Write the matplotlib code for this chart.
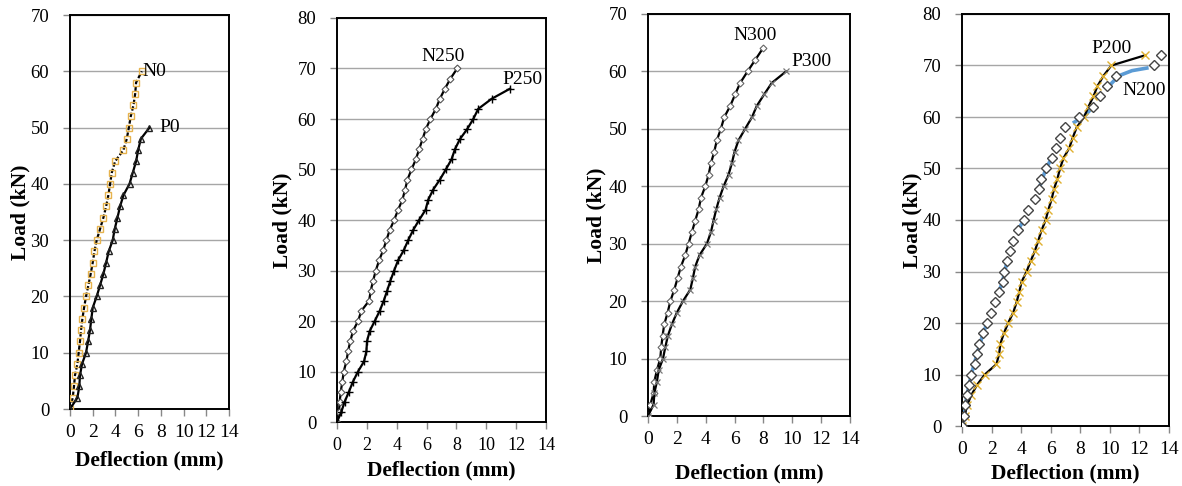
import matplotlib
matplotlib.use("Agg")
import matplotlib.pyplot as plt
import numpy as np

plt.rcParams.update({
    "font.family": ["Liberation Serif", "DejaVu Serif"],
    "font.size": 13,
})

# ---- data (load kN, deflection mm) ----
N0_load = [0, 2, 4, 6, 8, 10, 12, 14, 16, 18, 20, 22, 24, 26, 28, 30, 32, 34, 36, 38, 40, 42, 44, 46, 48, 50, 52, 54, 56, 58, 60]
N0_defl = [0, 0.24, 0.35, 0.44, 0.65, 0.76, 0.88, 0.97, 1.09, 1.24, 1.41, 1.62, 1.82, 2.0, 2.15, 2.35, 2.65, 2.94, 3.18, 3.38,
           3.53, 3.68, 3.97, 4.7, 5.0, 5.18, 5.35, 5.59, 5.74, 5.82, 6.32]
P0_load = [0, 2, 4, 6, 8, 10, 12, 14, 16, 18, 20, 22, 24, 26, 28, 30, 32, 34, 36, 38, 40, 42, 44, 46, 48, 50]
P0_defl = [0, 0.65, 0.82, 0.88, 1.06, 1.41, 1.59, 1.76, 1.88, 2.0, 2.35, 2.65, 2.94, 3.18, 3.41, 3.76, 3.94, 4.18, 4.41, 4.71,
           5.24, 5.53, 5.82, 6.0, 6.24, 7.0]

N250_load = list(range(0, 72, 2))
N250_defl = [0, 0.13, 0.18, 0.25, 0.36, 0.45, 0.63, 0.74, 0.89, 1.07, 1.41, 1.63, 2.15, 2.26, 2.42, 2.6, 2.82, 3.09, 3.31, 3.53,
             3.83, 4.09, 4.38, 4.56, 4.72, 4.99, 5.28, 5.5, 5.73, 5.95, 6.26, 6.62, 6.89, 7.23, 7.6, 8.05]
P250_load = list(range(0, 68, 2))
P250_defl = [0, 0.29, 0.51, 0.8, 1.07, 1.41, 1.81, 1.97, 2.01, 2.19, 2.53, 2.86, 3.13, 3.36, 3.58, 3.83, 4.09, 4.47, 4.77, 5.1,
             5.5, 5.93, 6.11, 6.44, 6.89, 7.29, 7.67, 7.9, 8.23, 8.72, 9.13, 9.46, 10.36, 11.59]

N300_load = list(range(0, 66, 2))
N300_defl = [0, 0.16, 0.39, 0.44, 0.62, 0.85, 0.92, 1.01, 1.13, 1.36, 1.55, 1.82, 2.05, 2.28, 2.58, 2.81, 3.04, 3.27, 3.51, 3.67,
             3.97, 4.2, 4.36, 4.59, 4.77, 5.05, 5.28, 5.7, 6.04, 6.39, 6.9, 7.43, 7.96]
P300_load = list(range(0, 62, 2))
P300_defl = [0, 0.39, 0.44, 0.62, 0.74, 1.04, 1.2, 1.38, 1.66, 2.0, 2.42, 2.93, 3.11, 3.27, 3.57, 4.08, 4.36, 4.54, 4.73, 4.96,
             5.24, 5.58, 5.81, 6.0, 6.27, 6.73, 7.2, 7.54, 8.05, 8.58, 9.57]

P200_load = list(range(0, 74, 2))
P200_defl = [0, 0.18, 0.34, 0.63, 1.02, 1.54, 2.33, 2.51, 2.6, 2.83, 3.12, 3.46, 3.69, 3.87, 4.03, 4.37, 4.64, 4.93, 5.16, 5.38,
             5.66, 5.84, 6.06, 6.22, 6.45, 6.63, 6.86, 7.26, 7.49, 7.76, 8.26, 8.55, 8.89, 9.16, 9.57, 10.1, 12.4]
N200_load = list(range(0, 74, 2))
N200_defl = [0, 0.14, 0.18, 0.34, 0.48, 0.63, 0.9, 1.02, 1.15, 1.43, 1.7, 1.95, 2.26, 2.49, 2.74, 2.83, 3.05, 3.24, 3.42, 3.76,
             4.19, 4.48, 4.93, 5.2, 5.34, 5.68, 6.06, 6.33, 6.63, 6.97, 7.94, 8.85, 9.3, 9.8, 10.43, 12.96, 13.48]
# blue trend line of N200 (drawn in pieces, NaN = gap)
N200_trend_defl = [0, 0.14, 0.34, 0.63, 1.02, 1.43, 1.7, np.nan, 2.49, 2.74, 3.05, np.nan, 3.76, 4.19, np.nan,
                   5.2, 5.68, 6.06, np.nan, 7.6, 8.3, 8.8, np.nan, 10.1, 10.6, 11.5, 12.5]
N200_trend_load = [0, 2, 6, 10, 14, 18, 20, np.nan, 26, 28, 32, np.nan, 38, 40, np.nan,
                   46, 50, 52, np.nan, 59, 60.2, 61.8, np.nan, 66.5, 68, 69, 69.5]

xticks = list(range(0, 16, 2))

# axes boxes in pixels: left, right, top, bottom
W, H = 1182, 486
boxes = [(70, 229, 15, 409), (337, 546, 18, 422), (648, 850, 14, 416), (962, 1169, 14, 426)]
ymaxes = [70, 80, 70, 80]
ylab_x = [20, 282, 596, 912]
xlab_y = [460, 470, 473, 473]
xtick_fs = [14, 13, 14, 14]

fig = plt.figure(figsize=(W / 100, H / 100), dpi=100)
axes = []
for (l, r, t, b), ymax, lx, ly, fs in zip(boxes, ymaxes, ylab_x, xlab_y, xtick_fs):
    ax = fig.add_axes([l / W, 1 - b / H, (r - l) / W, (b - t) / H])
    ax.set_xlim(0, 14)
    ax.set_ylim(0, ymax)
    ax.set_xticks(xticks)
    ax.set_yticks(range(0, ymax + 1, 10))
    ax.grid(axis="y", color="#a6a6a6", linewidth=1.0)
    ax.set_axisbelow(True)
    for s in ax.spines.values():
        s.set_color("black")
        s.set_linewidth(1.4)
    ax.tick_params(axis="x", direction="out", length=5, width=1, color="#888888", labelsize=fs, pad=6)
    ax.tick_params(axis="y", direction="out", length=5, width=1, color="#888888", labelsize=13.5, pad=10)
    ax.set_xlabel("Deflection (mm)", fontsize=15.5, fontweight="bold", va="center")
    ax.set_ylabel("Load (kN)", fontsize=15.5, fontweight="bold", va="center")
    ax.yaxis.set_label_coords((lx - l) / (r - l), 0.5)
    ax.xaxis.set_label_coords(0.5, -(ly - b) / (b - t))
    axes.append(ax)

lw = 1.6
# panel 1
ax = axes[0]
ax.plot(N0_defl, N0_load, color="black", linestyle=(0, (2, 1)), linewidth=lw, marker="s", markersize=4.5,
        markerfacecolor="none", markeredgecolor="#e6b34e", markeredgewidth=1.0, zorder=3)
ax.plot(P0_defl, P0_load, color="black", linewidth=lw, marker="^", markersize=4.5,
        markerfacecolor="none", markeredgecolor="#222222", markeredgewidth=1.0, zorder=3)
ax.text(6.4, 60, "N0", fontsize=14, va="center", ha="left")
ax.text(7.9, 50, "P0", fontsize=14, va="center", ha="left")

# panel 2
ax = axes[1]
ax.plot(N250_defl, N250_load, color="black", linewidth=lw, marker="D", markersize=3.5,
        markerfacecolor="white", markeredgecolor="#555555", markeredgewidth=0.8, zorder=3)
ax.plot(P250_defl, P250_load, color="black", linewidth=lw, marker="+", markersize=6,
        markeredgecolor="black", markeredgewidth=1.0, zorder=3)
ax.text(7.1, 72.3, "N250", fontsize=14, va="center", ha="center")
ax.text(11.1, 67.8, "P250", fontsize=14, va="center", ha="left")

# panel 3
ax = axes[2]
ax.plot(N300_defl, N300_load, color="black", linewidth=lw, marker="D", markersize=3.5,
        markerfacecolor="white", markeredgecolor="#666666", markeredgewidth=0.8, zorder=3)
ax.plot(P300_defl, P300_load, color="black", linewidth=lw, marker="x", markersize=4.5,
        markeredgecolor="#777777", markeredgewidth=0.9, zorder=3)
ax.text(7.4, 66.3, "N300", fontsize=14, va="center", ha="center")
ax.text(9.96, 61.7, "P300", fontsize=14, va="center", ha="left")

# panel 4
ax = axes[3]
ax.plot(N200_trend_defl, N200_trend_load, color="#5b9bd5", linewidth=2.6, zorder=2)
ax.plot(N200_defl, N200_load, linestyle="none", marker="D", markersize=5,
        markerfacecolor="white", markeredgecolor="#444444", markeredgewidth=1.0, zorder=4)
ax.plot(P200_defl, P200_load, color="black", linewidth=lw, marker="x", markersize=6,
        markeredgecolor="#e0b030", markeredgewidth=1.0, zorder=3)
ax.text(10.1, 73.3, "P200", fontsize=14, va="center", ha="center")
ax.text(12.3, 65.2, "N200", fontsize=14, va="center", ha="center")

fig.savefig("out.png", dpi=100)
